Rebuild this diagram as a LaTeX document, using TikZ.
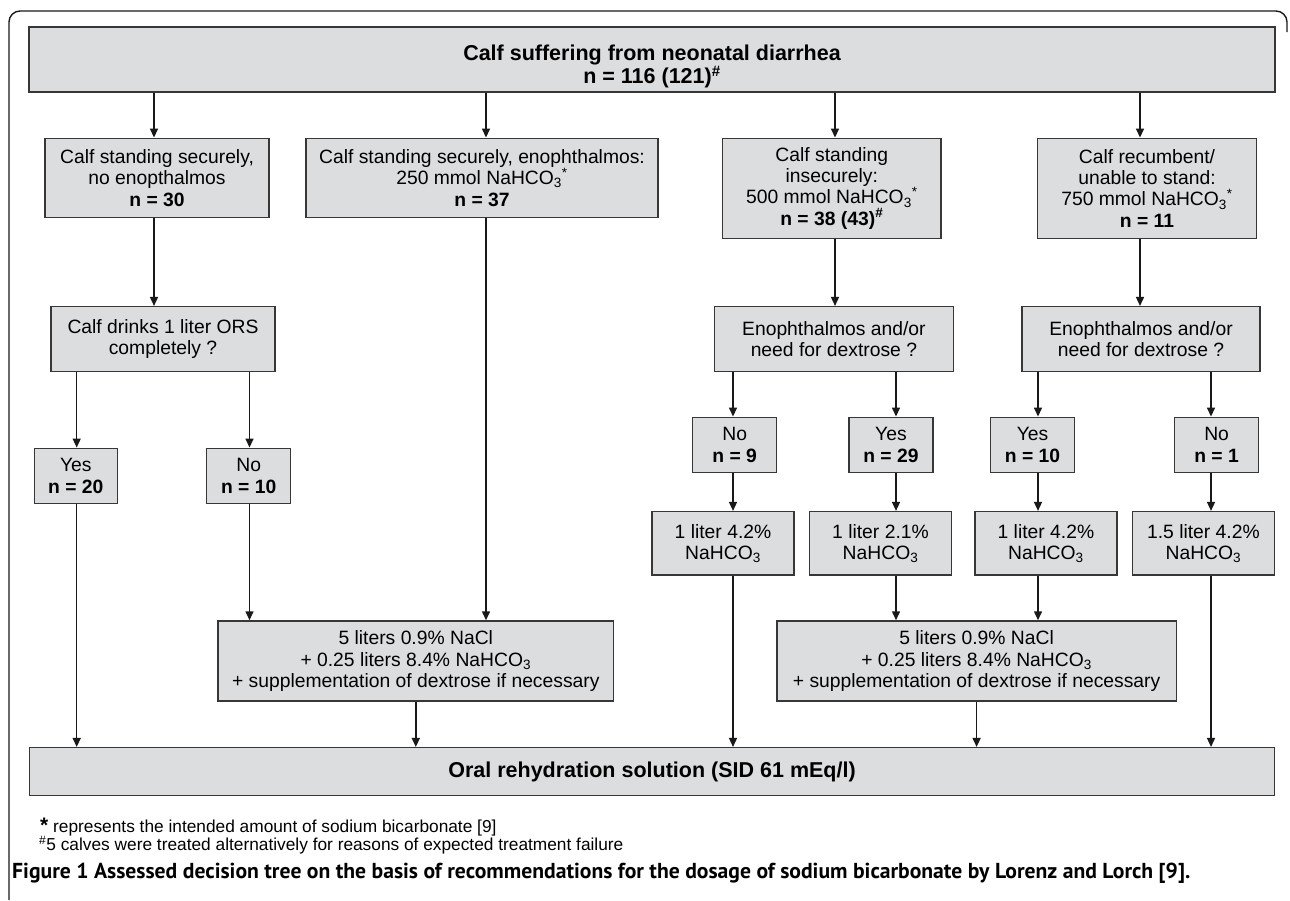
\documentclass[tikz,border=0pt]{standalone}
\usepackage{graphicx}
\usepackage{fontspec}
\setmainfont{Liberation Sans}
\newfontfamily\capfont{PT Sans}
\usetikzlibrary{arrows.meta}
\definecolor{boxfill}{RGB}{220,221,223}
\definecolor{boxline}{RGB}{55,55,55}
\definecolor{linecol}{RGB}{25,25,25}
\newcommand\bfsz{\fontsize{19.3}{21.3}\selectfont}
\newcommand\tfsz{\fontsize{21.5}{21.5}\selectfont\bfseries}
\newcommand\ffsz{\fontsize{17.3}{18.3}\selectfont}
\newcommand\nahco{NaHCO\textsubscript{3}}
\begin{document}
\begin{tikzpicture}[x=1pt,y=-1pt,
  fbox/.style={draw=boxline, fill=boxfill, line width=1.5pt, inner sep=0pt, align=center, font=\bfsz},
  arr/.style={draw=linecol, line width=1.5pt, -{Triangle[length=9pt,width=8pt]}}]
\useasboundingbox (0,0) rectangle (1290,900);
% frame
\draw[draw=linecol, line width=1.4pt, rounded corners=11pt] (9,900) -- (9,11) -- (1287,11) -- (1287,32);
% column helpers
\coordinate (c1) at (154,0);
\coordinate (c2) at (486,0);
\coordinate (c3) at (835,0);
\coordinate (c4) at (1140,0);
\coordinate (c5) at (76.7,0);
\coordinate (c6) at (249.5,0);
\coordinate (c7) at (733,0);
\coordinate (c8) at (896,0);
\coordinate (c9) at (1038,0);
\coordinate (c10) at (1211,0);
% nodes
\node[fbox, minimum width=1246pt, minimum height=65pt] (T) at (652,59.7) {};
\node[align=center, font=\tfsz, inner sep=0pt] (Ttext) at (652,66.5)
  {Calf suffering from neonatal diarrhea\\n = 116 (121)\textsuperscript{\#}};
\node[fbox, minimum width=224pt, minimum height=79.4pt] (A) at (157,178)
  {Calf standing securely,\\no enopthalmos\\\textbf{n = 30}};
\node[fbox, minimum width=352pt, minimum height=79.4pt] (B) at (482,178)
  {Calf standing securely, enophthalmos:\\250 mmol \nahco\textsuperscript{*}\\\textbf{n = 37}};
\node[fbox, minimum width=218.4pt, minimum height=100pt] (C) at (831.8,188.3)
  {Calf standing\\insecurely:\\500 mmol \nahco\textsuperscript{*}\\\textbf{n = 38 (43)\textsuperscript{\#}}};
\node[fbox, minimum width=219pt, minimum height=100pt] (D) at (1147,188.3)
  {Calf recumbent/\\unable to stand:\\750 mmol \nahco\textsuperscript{*}\\\textbf{n = 11}};
\node[fbox, minimum width=224pt, minimum height=65pt] (O) at (163,339.2)
  {Calf drinks 1 liter ORS\\completely ?};
\node[fbox, minimum width=239pt, minimum height=65pt] (E1) at (833.9,339.2)
  {Enophthalmos and/or\\need for dextrose ?};
\node[fbox, minimum width=238pt, minimum height=65pt] (E2) at (1141,339.2)
  {Enophthalmos and/or\\need for dextrose ?};
\node[fbox, minimum width=83pt, minimum height=55.4pt] (Y20) at (75.8,476)
  {Yes\\\textbf{n = 20}};
\node[fbox, minimum width=84pt, minimum height=55.4pt] (N10) at (248.7,476)
  {No\\\textbf{n = 10}};
\node[fbox, minimum width=84pt, minimum height=55pt] (N9) at (734.7,444.8)
  {No\\\textbf{n = 9}};
\node[fbox, minimum width=84pt, minimum height=55pt] (Y29) at (890.9,444.8)
  {Yes\\\textbf{n = 29}};
\node[fbox, minimum width=84pt, minimum height=55pt] (Y10) at (1032.5,444.8)
  {Yes\\\textbf{n = 10}};
\node[fbox, minimum width=84pt, minimum height=55pt] (N1) at (1216.6,444.8)
  {No\\\textbf{n = 1}};
\node[fbox, minimum width=142pt, minimum height=63.3pt] (L1) at (723,543.3)
  {1 liter 4.2\%\\\nahco};
\node[fbox, minimum width=142pt, minimum height=63.3pt] (L2) at (880.5,543.3)
  {1 liter 2.1\%\\\nahco};
\node[fbox, minimum width=142pt, minimum height=63.3pt] (L3) at (1045.9,543.3)
  {1 liter 4.2\%\\\nahco};
\node[fbox, minimum width=142pt, minimum height=63.3pt] (L4) at (1203.4,543.3)
  {1.5 liter 4.2\%\\\nahco};
\node[fbox, minimum width=395.6pt, minimum height=80pt] (L5) at (415.8,661)
  {5 liters 0.9\% NaCl\\+ 0.25 liters 8.4\% \nahco\\+ supplementation of dextrose if necessary};
\node[fbox, minimum width=399.6pt, minimum height=80pt] (R5) at (976.6,661)
  {5 liters 0.9\% NaCl\\+ 0.25 liters 8.4\% \nahco\\+ supplementation of dextrose if necessary};
\node[fbox, font=\tfsz, minimum width=1245.4pt, minimum height=48pt] (BB) at (652,771.7)
  {Oral rehydration solution (SID 61 mEq/l)};
% connectors
\draw[arr] (T.south -| c1) -- (A.north -| c1);
\draw[arr] (T.south -| c2) -- (B.north -| c2);
\draw[arr] (T.south -| c3) -- (C.north -| c3);
\draw[arr] (T.south -| c4) -- (D.north -| c4);
\draw[arr] (A.south -| c1) -- (O.north -| c1);
\draw[arr] (O.south -| c5) -- (Y20.north -| c5);
\draw[arr] (O.south -| c6) -- (N10.north -| c6);
\draw[arr] (N10.south -| c6) -- (L5.north -| c6);
\draw[arr] (B.south -| c2) -- (L5.north -| c2);
\draw[arr] (Y20.south -| c5) -- (BB.north -| c5);
\draw[arr] (L5.south) -- (BB.north -| L5.south);
\draw[arr] (C.south -| c3) -- (E1.north -| c3);
\draw[arr] (D.south -| c4) -- (E2.north -| c4);
\draw[arr] (E1.south -| c7) -- (N9.north -| c7);
\draw[arr] (E1.south -| c8) -- (Y29.north -| c8);
\draw[arr] (E2.south -| c9) -- (Y10.north -| c9);
\draw[arr] (E2.south -| c10) -- (N1.north -| c10);
\draw[arr] (N9.south -| c7) -- (L1.north -| c7);
\draw[arr] (Y29.south -| c8) -- (L2.north -| c8);
\draw[arr] (Y10.south -| c9) -- (L3.north -| c9);
\draw[arr] (N1.south -| c10) -- (L4.north -| c10);
\draw[arr] (L1.south -| c7) -- (BB.north -| c7);
\draw[arr] (L2.south -| c8) -- (R5.north -| c8);
\draw[arr] (L3.south -| c9) -- (R5.north -| c9);
\draw[arr] (L4.south -| c10) -- (BB.north -| c10);
\draw[arr] (R5.south) -- (BB.north -| R5.south);
% footnotes and caption
\node[anchor=west, font=\ffsz, inner sep=0pt] (f1) at (40,826.7)
  {{\fontsize{21}{18}\selectfont\textbf{*}} represents the intended amount of sodium bicarbonate [9]};
\node[anchor=west, font=\ffsz, inner sep=0pt] (f2) at (39,845)
  {\textsuperscript{\#}5 calves were treated alternatively for reasons of expected treatment failure};
\node[anchor=west, inner sep=0pt] (cap) at (12,873)
  {\resizebox{1178pt}{!}{\capfont\bfseries Figure 1 Assessed decision tree on the basis of recommendations for the dosage of sodium bicarbonate by Lorenz and Lorch [9].}};
\end{tikzpicture}
\end{document}
